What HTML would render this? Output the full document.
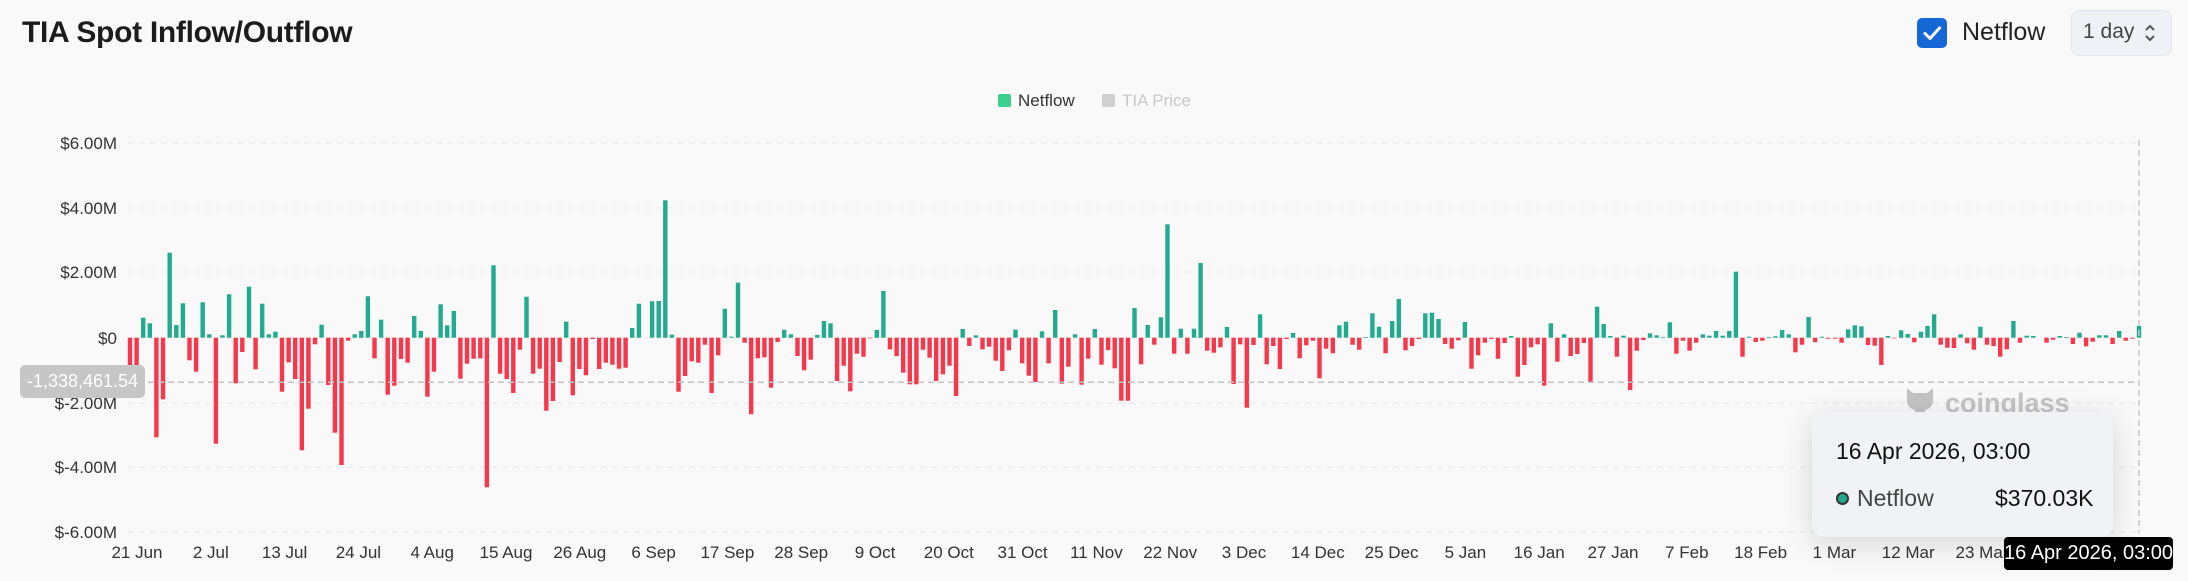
<!DOCTYPE html>
<html><head><meta charset="utf-8">
<style>
*{margin:0;padding:0;box-sizing:border-box}
body{width:2188px;height:581px;background:#f9f9f9;font-family:"Liberation Sans",sans-serif;position:relative;overflow:hidden}
.abs{position:absolute;white-space:nowrap}
</style></head><body>
<div class="abs" style="left:22px;top:16px;font-size:30px;font-weight:bold;color:#1c1c1c;letter-spacing:-0.3px">TIA Spot Inflow/Outflow</div>
<div class="abs" style="left:1917px;top:18px;width:30px;height:30px;background:#1667d6;border-radius:5px"></div>
<svg class="abs" style="left:1917px;top:18px" width="30" height="30"><path d="M8 15.5 L13 20.5 L22.5 10" stroke="#fff" stroke-width="3" fill="none" stroke-linecap="round" stroke-linejoin="round"/></svg>
<div class="abs" style="left:1962px;top:18px;font-size:25px;color:#222">Netflow</div>
<div class="abs" style="left:2071px;top:10px;width:101px;height:46px;background:#eef1f5;border:1px solid #e2e5ea;border-radius:8px"></div>
<div class="abs" style="left:2083px;top:20px;font-size:21px;color:#444">1 day</div>
<svg class="abs" style="left:2143px;top:22px" width="14" height="22"><path d="M3 8 L7 4 L11 8 M3 14 L7 18 L11 14" stroke="#555" stroke-width="2" fill="none"/></svg>
<div class="abs" style="left:998px;top:94px;width:13px;height:13px;background:#3ecf8e;border-radius:2px"></div>
<div class="abs" style="left:1018px;top:91px;font-size:17px;color:#333">Netflow</div>
<div class="abs" style="left:1102px;top:94px;width:13px;height:13px;background:#d0d0d0;border-radius:2px"></div>
<div class="abs" style="left:1122px;top:91px;font-size:17px;color:#c8c8c8">TIA Price</div>
<svg class="abs" style="left:0;top:0" width="2188" height="581" id="ch"></svg>
<svg class="abs" style="left:1903px;top:384px" width="34" height="34"><path d="M4 4 L10 9 L24 9 L30 4 L30 16 Q30 24 22 26 L22 32 L12 32 L12 26 Q4 24 4 16 Z" fill="#c4c4c4"/></svg>
<div class="abs" style="left:1945px;top:388px;font-size:27px;font-weight:bold;color:#c4c4c4">coinglass</div>
<div class="abs" style="left:20px;top:365px;width:125px;height:33px;background:#c6c6c6;border-radius:5px;color:#fff;font-size:18px;line-height:33px;text-align:center">-1,338,461.54</div>
<div class="abs" style="left:1812px;top:412px;width:301px;height:125px;background:#f0f2f5;border-radius:12px;box-shadow:0 6px 30px rgba(0,0,0,0.15)"></div>
<div class="abs" style="left:1836px;top:438px;font-size:23px;color:#111">16 Apr 2026, 03:00</div>
<div class="abs" style="left:1836px;top:492px;width:13px;height:13px;border-radius:50%;background:#22a88a;border:2px solid #333"></div>
<div class="abs" style="left:1857px;top:485px;font-size:23px;color:#444">Netflow</div>
<div class="abs" style="left:1995px;top:485px;width:94px;text-align:right;font-size:23px;color:#111">$370.03K</div>
<div class="abs" style="left:2004px;top:537px;width:169px;height:33px;background:#000;border-radius:4px;color:#fff;font-size:20px;line-height:33px;text-align:center">16 Apr 2026, 03:00</div>
<script>
var svg=document.getElementById('ch'),h='';
var Z=337.7,L=128,R=2139;
var yl=[[143,'$6.00M'],[208,'$4.00M'],[272,'$2.00M'],[338,'$0'],[403,'$-2.00M'],[467,'$-4.00M'],[532,'$-6.00M']];
yl.forEach(function(a){h+='<line x1="'+L+'" x2="'+R+'" y1="'+a[0]+'" y2="'+a[0]+'" stroke="#e6e6e6" stroke-dasharray="6,5"/>';
h+='<text x="117" y="'+(a[0]+6)+'" text-anchor="end" font-size="17" fill="#333" font-family="Liberation Sans, sans-serif">'+a[1]+'</text>';});
var z5=[540,530,383,400,742,628,188,405,340,511,545,337,433,761,436,313,580,486,290,538,341,433,425,605,517,567,781,656,463,404,585,728,825,452,433,423,319,505,389,614,587,507,518,378,423,620,545,343,406,363,566,521,506,505,892,226,551,567,609,479,320,551,536,662,633,516,395,616,537,556,447,537,518,524,536,533,414,341,443,334];
var z6=[333,31,434,605,558,514,518,464,609,496,356,440,278,458,673,505,502,593,456,419,433,498,541,509,435,393,400,573,527,604,491,500,445,420,303,478,498,548,583,583,479,503,573,553,527,618,417,468,436,478,470,512,543,481,419,520,557,576,424,520,360,581,530,433,584,506,417,524,480,535,632,632,354,523,405,464,382,103,491,416];
var z7=[491,416,219,482,488,472,411,582,463,653,465,373,523,468,537,447,429,505,466,452,565,476,490,406,395,464,479,441,370,410,490,393,327,481,468,447,370,368,387,462,476,451,396,536,496,458,447,506,459,438,560,525,472,463,587,400,515,433,498,492,459,575,350,402,438,500,437,600,482,450,430,436,441,397,491,452,482,458,433,437,423];
var z8=[257,243,65,320,260,276,272,261,259,240,253,307,284,201,277,260,266,266,278,238,226,229,285,287,345,258,265,241,252,277,245,228,193,284,293,294,253,280,299,230,284,288,320,298,213,278,257,258,262,278,269,258,261,282,248,289,275,256,256,282,243,272,266,228];
var v=[];
z5.concat(z6,z7).forEach(function(y){v.push(190+y/3);});
z8.forEach(function(y){v.push(250+y/3);});
var n=v.length,x0=130,x1=2139,st=(x1-x0)/(n-1),w=4.4;
v.forEach(function(y,i){var x=x0+i*st-w/2;if(Math.abs(y-Z)<0.6)return;
var t=Math.min(y,Z),hh=Math.abs(y-Z);var c=y<Z?'#23ab90':'#f5384b';
h+='<rect x="'+x.toFixed(1)+'" y="'+t.toFixed(1)+'" width="'+w+'" height="'+hh.toFixed(1)+'" fill="'+c+'"/>';});
h+='<line x1="'+L+'" x2="'+R+'" y1="382.3" y2="382.3" stroke="#c4c4c4" stroke-width="1.5" stroke-dasharray="6,4"/>';
h+='<line x1="'+R+'" x2="'+R+'" y1="140" y2="533" stroke="#c8c8c8" stroke-width="1.5" stroke-dasharray="6,4"/>';
var xl=['21 Jun','2 Jul','13 Jul','24 Jul','4 Aug','15 Aug','26 Aug','6 Sep','17 Sep','28 Sep','9 Oct','20 Oct','31 Oct','11 Nov','22 Nov','3 Dec','14 Dec','25 Dec','5 Jan','16 Jan','27 Jan','7 Feb','18 Feb','1 Mar','12 Mar','23 Mar'];
xl.forEach(function(s,i){h+='<text x="'+(137+i*73.8).toFixed(1)+'" y="558" text-anchor="middle" font-size="17" fill="#333" font-family="Liberation Sans, sans-serif">'+s+'</text>';});
svg.innerHTML=h;
</script>
</body></html>
